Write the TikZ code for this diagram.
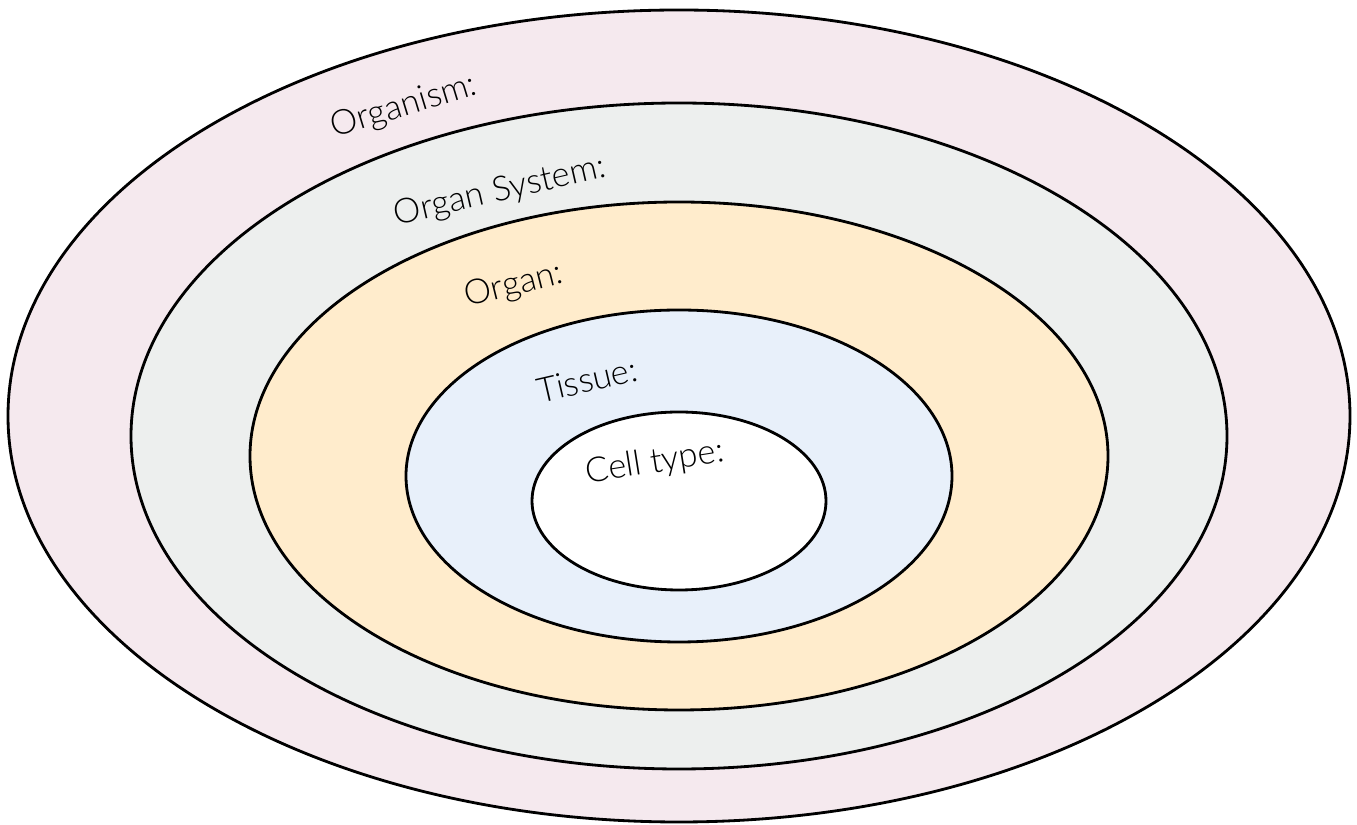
\documentclass[tikz,border=0pt]{standalone}
\usepackage{fontspec}
\setmainfont{Lato}[UprightFont=* Light]
\usepackage{tikz}
\usetikzlibrary{positioning}
\definecolor{organismcol}{RGB}{245,233,238}
\definecolor{systemcol}{RGB}{237,239,238}
\definecolor{organcol}{RGB}{255,236,204}
\definecolor{tissuecol}{RGB}{232,240,250}

\begin{document}
\begin{tikzpicture}[x=0.01cm, y=-0.01cm, line width=0.8pt,
    level/.style={font=\fontsize{9.8}{11}\selectfont, inner sep=0pt}]
   \useasboundingbox (0,0) rectangle (1357,825);
   % nested levels, outside to inside
   \filldraw[fill=organismcol] (679,416) ellipse [x radius=671, y radius=406];
   \filldraw[fill=systemcol] (679,436) ellipse [x radius=548, y radius=333];
   \filldraw[fill=organcol] (679,456) ellipse [x radius=429, y radius=254];
   \filldraw[fill=tissuecol] (679,476) ellipse [x radius=273, y radius=166];
   \filldraw[fill=white] (679,501) ellipse [x radius=147, y radius=89];
   % labels
   \node[level, rotate=17] (organism) at (404,107) {Organism:};
   \node[level, rotate=13] (system) at (500,192) {Organ System:};
   \node[level, rotate=14] (organ) at (514,286) {Organ:};
   \node[level, rotate=13] (tissue) at (587,380) {Tissue:};
   \node[level, rotate=9] (cell) at (655,463) {Cell type:};
\end{tikzpicture}
\end{document}
